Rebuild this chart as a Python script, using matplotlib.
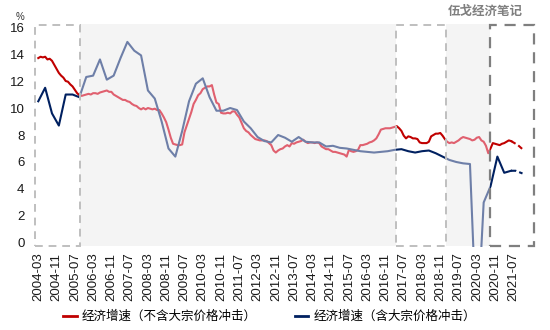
import numpy as np
import pandas as pd
import matplotlib
matplotlib.use("Agg")
import matplotlib.pyplot as plt
from matplotlib.patches import Rectangle

plt.rcParams['font.family'] = ['Liberation Sans', 'Noto Sans CJK SC']

# monthly axis, 2004-03 .. 2021-11
months = list(pd.date_range("2004-03-01", "2021-11-01", freq="MS").strftime("%Y-%m"))

# 经济增速（不含大宗价格冲击）, monthly
red_vals = [
    13.7, 13.8, 13.75, 13.8, 13.6, 13.65, 13.5, 13.2, 12.9, 12.6, 12.4, 12.25,   # 2004-03..
    12.0, 11.95, 11.75, 11.6, 11.35, 11.1, 10.95, 10.9, 10.95, 11.0, 11.05, 11.0,  # 2005-03..
    11.1, 11.1, 11.05, 11.15, 11.2, 11.25, 11.3, 11.2, 11.2, 11.0, 10.9, 10.8,     # 2006-03..
    10.7, 10.6, 10.6, 10.5, 10.45, 10.3, 10.2, 10.15, 10.0, 9.9, 10.0, 9.9,        # 2007-03..
    10.0, 9.95, 9.9, 9.95, 9.85, 9.85, 9.6, 9.3, 8.95, 8.4, 7.8, 7.35,             # 2008-03..
    7.3, 7.25, 7.25, 7.3, 8.2, 8.7, 9.2, 9.7, 10.3, 10.6, 10.95, 11.1,             # 2009-03..
    11.4, 11.5, 11.6, 11.6, 11.7, 11.0, 10.4, 10.3, 9.65, 9.6, 9.6, 9.65,          # 2010-03..
    9.6, 9.75, 9.75, 9.5, 9.3, 8.9, 8.5, 8.3, 8.2, 8.0, 7.85, 7.7,                 # 2011-03..
    7.65, 7.6, 7.6, 7.6, 7.55, 7.4, 7.25, 6.85, 6.7, 6.85, 6.95, 7.0,              # 2012-03..
    7.15, 7.25, 7.15, 7.4, 7.35, 7.45, 7.5, 7.55, 7.65, 7.5, 7.4, 7.45,            # 2013-03..
    7.45, 7.4, 7.45, 7.4, 7.15, 7.05, 6.95, 6.95, 6.85, 6.75, 6.75, 6.7,           # 2014-03..
    6.65, 6.6, 6.55, 6.4, 6.9, 6.8, 6.75, 6.8, 6.9, 7.25, 7.25, 7.3,               # 2015-03..
    7.35, 7.45, 7.5, 7.6, 7.75, 8.05, 8.4, 8.45, 8.5, 8.5, 8.5, 8.55,              # 2016-03..
    8.6, 8.65, 8.5, 8.3, 7.95, 7.75, 7.9, 7.85, 7.75, 7.75, 7.7, 7.45,             # 2017-03..
    7.4, 7.4, 7.4, 7.5, 7.9, 8.0, 8.1, 8.1, 8.15, 7.95, 7.7, 7.5,                  # 2018-03..
    7.4, 7.45, 7.4, 7.5, 7.6, 7.75, 7.85, 7.8, 7.75, 7.7, 7.6, 7.65,               # 2019-03..
    7.8, 7.85, 7.6, 7.5, 7.2, 6.65, 7.0, 7.4, 7.35, 7.3, 7.25, 7.35,               # 2020-03..
    7.4, 7.5, 7.6, 7.55, 7.45, 7.35, 7.25, 7.1, 6.95,                              # 2021-03..11
]
red_dash_from = "2021-06"

# 经济增速（含大宗价格冲击）, quarterly
blue_dates = [
    "2004-03", "2004-06", "2004-09", "2004-12", "2005-03", "2005-06", "2005-09", "2005-12",
    "2006-03", "2006-06", "2006-09", "2006-12", "2007-03", "2007-06", "2007-09", "2007-12",
    "2008-03", "2008-06", "2008-09", "2008-12", "2009-03", "2009-06", "2009-09", "2009-12",
    "2010-03", "2010-06", "2010-09", "2010-12", "2011-03", "2011-06", "2011-09", "2011-12",
    "2012-03", "2012-06", "2012-09", "2012-12", "2013-03", "2013-06", "2013-09", "2013-12",
    "2014-03", "2014-06", "2014-09", "2014-12", "2015-03", "2015-06", "2015-09", "2015-12",
    "2016-03", "2016-06", "2016-09", "2016-12", "2017-03", "2017-06", "2017-09", "2017-12",
    "2018-03", "2018-06", "2018-09", "2018-12", "2019-03", "2019-06", "2019-09", "2019-12",
    "2020-03", "2020-06", "2020-09", "2020-12", "2021-03", "2021-06",
]
blue_vals = [
    10.5, 11.5, 9.6, 8.7, 11.0, 11.0, 10.8, 12.3,
    12.4, 13.6, 12.1, 12.4, 13.7, 14.9, 14.25, 13.9,
    11.3, 10.7, 9.0, 7.0, 6.4, 8.3, 10.5, 11.8,
    12.2, 10.8, 9.8, 9.8, 10.0, 9.85, 9.0, 8.5,
    7.85, 7.55, 7.45, 8.0, 7.8, 7.5, 7.85, 7.5,
    7.45, 7.45, 7.15, 7.2, 7.05, 7.0, 6.9, 6.8,
    6.75, 6.7, 6.75, 6.8, 6.9, 6.95, 6.8, 6.7,
    6.8, 6.85, 6.65, 6.4, 6.15, 6.0, 5.9, 5.85,
    -6.8, 3.0, 4.2, 6.4, 5.2, 5.35,
]
# forecast part (dashed)
blue_fc_dates = ["2021-06", "2021-08", "2021-11"]
blue_fc_vals = [5.35, 5.35, 5.15]

# dashed boxes and shaded spans, in month index units
box_spans = [(-1.5, 18.3), (156.5, 178.5), (197.8, 217.0)]
shade_spans = [(18.3, 156.5), (178.5, 197.8)]

red_dark, red_light = "#C00000", "#E0606F"
blue_dark, blue_light = "#002060", "#6E7FA8"

idx = {m: i for i, m in enumerate(months)}
xr = np.arange(len(red_vals))
xb = np.array([idx[d] for d in blue_dates])
xbf = np.array([idx[d] for d in blue_fc_dates])
cut = idx[red_dash_from]

ymin, ymax = -0.3, 16.3

fig = plt.figure(figsize=(5.5, 3.3), dpi=100)
ax = fig.add_axes([30 / 550, 0.2515, 510 / 550, 0.6788])
ax.set_xlim(-3.63, 219.66)
ax.set_ylim(ymin, ymax)

for x0, x1 in shade_spans:
    ax.add_patch(Rectangle((x0, -0.25), x1 - x0, 16.45, facecolor="#F4F4F4", edgecolor="none", zorder=0))


def clipped(x, y, color, spans, ls="-"):
    # draw the line only inside the given x spans (and the y range of the axes)
    for x0, x1 in spans:
        line, = ax.plot(x, y, color=color, lw=1.5, ls=ls, zorder=3)
        rect = Rectangle((x0, ymin), x1 - x0, ymax - ymin, transform=ax.transData)
        line.set_clip_path(rect)


clipped(xr[:cut + 1], red_vals[:cut + 1], red_light, shade_spans)
clipped(xr[:cut + 1], red_vals[:cut + 1], red_dark, box_spans)
ax.plot(xr[cut:], red_vals[cut:], color=red_dark, lw=1.5, ls=(0, (2.5, 1.5)), zorder=3)

clipped(xb, blue_vals, blue_light, shade_spans)
clipped(xb, blue_vals, blue_dark, box_spans)
ax.plot(xbf, blue_fc_vals, color=blue_dark, lw=1.5, ls=(0, (2.5, 1.5)), zorder=3)

# dashed boxes
for i, (x0, x1) in enumerate(box_spans):
    if i == 2:
        ec, dash, lw = "#7F7F7F", (0, (5, 3.5)), 1.6
    else:
        ec, dash, lw = "#BFBFBF", (0, (4, 3)), 1.4
    ax.add_patch(Rectangle((x0, -0.22), x1 - x0, 16.37, facecolor="none", edgecolor=ec,
                           ls=dash, lw=lw, zorder=4, clip_on=False))

ax.set_yticks(np.arange(0, 17, 2))
ticks = list(range(0, len(months), 8))
ax.set_xticks(ticks)
ax.set_xticklabels([months[i] for i in ticks], rotation=90)
ax.tick_params(axis="both", length=0, labelsize=9.5, labelcolor="#1A1A1A")
ax.tick_params(axis="x", pad=4)
ax.tick_params(axis="y", pad=4)
for s in ax.spines.values():
    s.set_visible(False)

fig.text(16 / 550, 1 - 17 / 330, "%", fontsize=7, color="#333333", va="center")
fig.text(523 / 550, 1 - 12 / 330, "伍戈经济笔记", fontsize=9, color="#7F7F7F",
         fontweight="bold", ha="right", va="center")

h1, = ax.plot([], [], color=red_dark, lw=2)
h2, = ax.plot([], [], color=blue_dark, lw=2)
fig.legend([h1, h2], ["经济增速（不含大宗价格冲击）", "经济增速（含大宗价格冲击）"],
           loc="center", bbox_to_anchor=(0.49, 1 - 317 / 330), ncol=2, frameon=False,
           fontsize=9, handlelength=1.1, handletextpad=0.4, columnspacing=3.0)

fig.savefig("out.png", dpi=100, facecolor="white")
